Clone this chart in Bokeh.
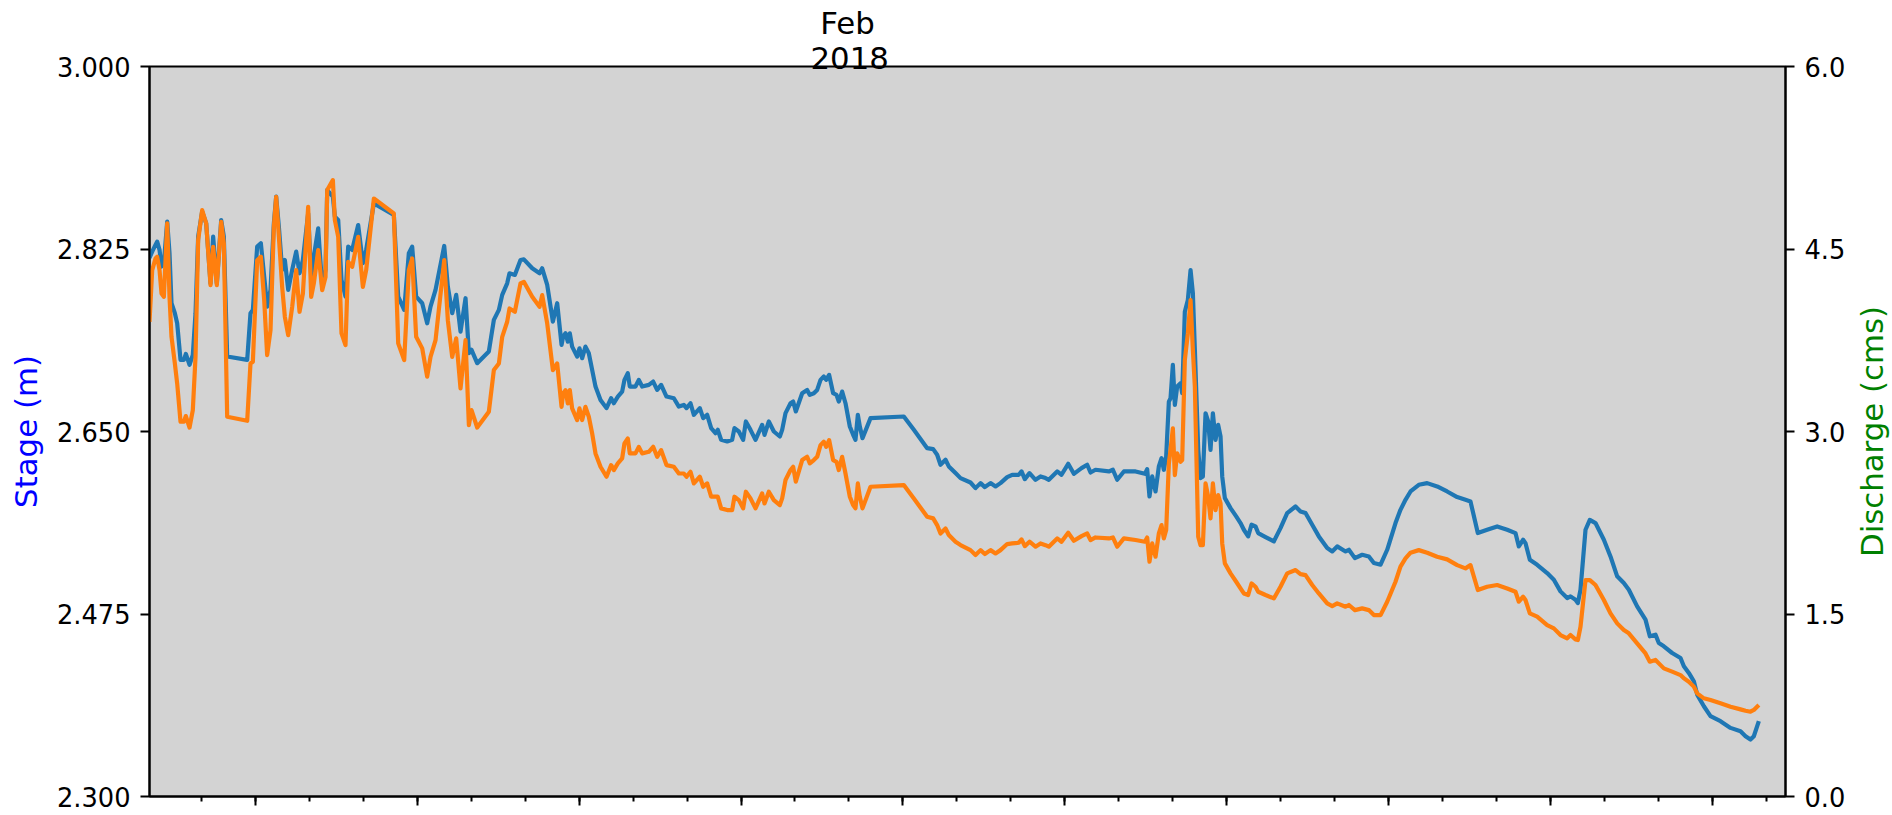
import math
from bokeh.plotting import figure
from bokeh.layouts import row
from bokeh.models import Range1d, LinearAxis, FixedTicker, Title
from bokeh.core.properties import value
from bokeh.embed import file_html
from bokeh.resources import INLINE

# time in days since 2018-02-01 00:00
days = [
    -1.965, -1.915, -1.854, -1.823, -1.779, -1.742, -1.699, -1.637, -1.594, -1.557,
    -1.495, -1.452, -1.390, -1.328, -1.291, -1.223, -1.162, -1.112, -1.063, -0.989,
    -0.914, -0.834, -0.785, -0.717, -0.636, -0.587, -0.525, -0.154, -0.093, -0.049,
    0.031, 0.099, 0.161, 0.216, 0.278, 0.340, 0.383, 0.433, 0.494, 0.544,
    0.606, 0.680, 0.754, 0.816, 0.878, 0.976, 1.032, 1.081, 1.162, 1.236,
    1.298, 1.329, 1.434, 1.471, 1.533, 1.594, 1.668, 1.718, 1.792, 1.903,
    1.990, 2.051, 2.194, 2.564, 2.645, 2.756, 2.842, 2.904, 2.978, 3.090,
    3.182, 3.244, 3.337, 3.498, 3.565, 3.646, 3.720, 3.800, 3.893, 3.955,
    4.004, 4.109, 4.233, 4.325, 4.418, 4.511, 4.573, 4.665, 4.708, 4.807,
    4.912, 4.974, 5.129, 5.265, 5.314, 5.407, 5.512, 5.592, 5.673,
    5.702, 5.746, 5.789, 5.826, 5.869, 5.962, 6.005, 6.055, 6.116, 6.178,
    6.240, 6.302, 6.395, 6.506, 6.592, 6.642, 6.716, 6.796, 6.839, 6.901,
    6.938, 7.043, 7.105, 7.167, 7.290, 7.371, 7.445, 7.519, 7.618, 7.754,
    7.847, 7.939, 7.989, 8.063, 8.125, 8.236, 8.298, 8.372, 8.446, 8.526,
    8.569, 8.631, 8.743, 8.835, 8.878, 8.959, 9.039, 9.089, 9.175, 9.268,
    9.391, 9.435, 9.515, 9.608, 9.719, 9.762, 9.824, 9.917, 9.966, 10.015,
    10.133, 10.225, 10.275, 10.349, 10.411, 10.473, 10.534, 10.578, 10.633, 10.707,
    10.769, 10.812, 10.874, 10.936, 11.016, 11.078, 11.121, 11.165, 11.202, 11.251,
    11.400, 12.017, 12.203, 12.450, 12.561, 12.635, 12.697, 12.790, 12.851, 12.975,
    13.068, 13.253, 13.346,
    13.439, 13.519, 13.624, 13.717, 13.809, 13.933, 14.026, 14.149, 14.199, 14.260,
    14.347, 14.458, 14.551, 14.644, 14.705, 14.860, 14.940, 15.064, 15.169, 15.311,
    15.416, 15.478, 15.570, 15.818, 15.892, 15.972, 16.096, 16.312, 16.485, 16.528,
    16.571, 16.621, 16.683, 16.744, 16.794, 16.837, 16.880, 16.930, 16.961, 17.004,
    17.041, 17.084, 17.146, 17.177, 17.226, 17.282, 17.332, 17.375, 17.412, 17.474,
    17.517, 17.560, 17.610, 17.659, 17.702, 17.746, 17.795, 17.844, 17.888, 17.919,
    17.968, 18.073, 18.178, 18.258, 18.320, 18.400, 18.462, 18.536, 18.586, 18.722,
    18.876, 18.999, 19.123, 19.278, 19.370, 19.463, 19.587, 19.710, 19.865, 19.958,
    20.050, 20.205, 20.267, 20.378, 20.514, 20.637, 20.730, 20.854, 20.977, 21.131,
    21.223, 21.316, 21.409, 21.563, 21.718, 21.903, 22.088, 22.274, 22.428, 22.521,
    22.657, 22.830, 23.015, 23.201, 23.355, 23.417, 23.497, 23.540, 23.621, 23.757,
    23.942, 24.066, 24.189, 24.313, 24.375, 24.467, 24.511, 24.560, 24.653, 24.733,
    24.838, 24.993, 25.116, 25.240, 25.363, 25.456, 25.610, 25.765, 25.845, 25.950,
    26.012, 26.105, 26.259, 26.414, 26.476, 26.568, 26.661, 26.723, 26.847, 26.970,
    27.155, 27.341, 27.526, 27.619, 27.711, 27.773, 27.866,
]

stage_m = [
    2.8165, 2.8225, 2.8289, 2.8321, 2.8241, 2.8081, 2.8113, 2.8512, 2.8209, 2.7730,
    2.7634, 2.7538, 2.7187, 2.7187, 2.7244, 2.7139, 2.7235, 2.7634, 2.8368, 2.8608,
    2.8496, 2.7921, 2.8368, 2.7921, 2.8528, 2.8368, 2.7219, 2.7187, 2.7634, 2.7666,
    2.8273, 2.8305, 2.7985, 2.7698, 2.7858, 2.8496, 2.8752, 2.8464, 2.8049, 2.8145,
    2.7858, 2.8049, 2.8225, 2.8017, 2.8145, 2.8592, 2.7985, 2.8177, 2.8448, 2.7889,
    2.8049, 2.8815, 2.8752, 2.8560, 2.8528, 2.7953, 2.7794, 2.8273, 2.8241, 2.8480,
    2.8113, 2.8241, 2.8688, 2.8576, 2.7794, 2.7666, 2.8209, 2.8273, 2.7794, 2.7730,
    2.7538, 2.7698, 2.7858, 2.8279, 2.7889, 2.7634, 2.7810, 2.7458, 2.7778, 2.7251,
    2.7283, 2.7155, 2.7219, 2.7267, 2.7570, 2.7666, 2.7810, 2.7921, 2.8017, 2.8001,
    2.8145, 2.8151, 2.8065, 2.8017, 2.8065, 2.7905, 2.7554, 2.7730, 2.7331,
    2.7410, 2.7442, 2.7362, 2.7442, 2.7314, 2.7218, 2.7298, 2.7203, 2.7314, 2.7250,
    2.7091, 2.6931, 2.6803, 2.6724, 2.6819, 2.6771, 2.6835, 2.6883, 2.6995, 2.7059,
    2.6931, 2.6931, 2.6995, 2.6931, 2.6947, 2.6979, 2.6899, 2.6947, 2.6835, 2.6819,
    2.6739, 2.6755, 2.6724, 2.6771, 2.6660, 2.6724, 2.6628, 2.6660, 2.6532, 2.6484,
    2.6516, 2.6420, 2.6404, 2.6420, 2.6532, 2.6500, 2.6420, 2.6596, 2.6516, 2.6420,
    2.6564, 2.6468, 2.6596, 2.6500, 2.6452, 2.6516, 2.6676, 2.6771, 2.6787, 2.6692,
    2.6867, 2.6899, 2.6851, 2.6867, 2.6899, 2.6995, 2.7027, 2.6995, 2.7043, 2.6867,
    2.6851, 2.6787, 2.6883, 2.6771, 2.6548, 2.6468, 2.6420, 2.6660, 2.6548, 2.6436,
    2.6628, 2.6644, 2.6516, 2.6340, 2.6331, 2.6277, 2.6181, 2.6229, 2.6165, 2.6101,
    2.6053, 2.6011, 2.5957,
    2.6005, 2.5967, 2.6005, 2.5973, 2.6005, 2.6062, 2.6085, 2.6085, 2.6117, 2.6043,
    2.6101, 2.6037, 2.6069, 2.6053, 2.6037, 2.6117, 2.6085, 2.6190, 2.6094, 2.6149,
    2.6181, 2.6107, 2.6133, 2.6117, 2.6133, 2.6037, 2.6117, 2.6117, 2.6094, 2.6139,
    2.5877, 2.6069, 2.5925, 2.6165, 2.6244, 2.6133, 2.6260, 2.6787, 2.6819, 2.7138,
    2.6755, 2.6931, 2.6963, 2.6867, 2.7649, 2.7761, 2.8048, 2.7825, 2.7282, 2.6324,
    2.6053, 2.6069, 2.6675, 2.6596, 2.6324, 2.6675, 2.6420, 2.6564, 2.6452, 2.6069,
    2.5861, 2.5765, 2.5686, 2.5622, 2.5558, 2.5494, 2.5606, 2.5590, 2.5526, 2.5488,
    2.5446, 2.5574, 2.5718, 2.5781, 2.5734, 2.5718, 2.5606, 2.5494, 2.5382, 2.5350,
    2.5398, 2.5350, 2.5366, 2.5286, 2.5318, 2.5302, 2.5239, 2.5223, 2.5366, 2.5622,
    2.5749, 2.5845, 2.5925, 2.5989, 2.6005, 2.5973, 2.5925, 2.5871, 2.5845, 2.5829,
    2.5526, 2.5558, 2.5590, 2.5558, 2.5526, 2.5398, 2.5462, 2.5430, 2.5270, 2.5222,
    2.5143, 2.5079, 2.4967, 2.4903, 2.4919, 2.4887, 2.4855, 2.4983, 2.5558, 2.5653,
    2.5622, 2.5462, 2.5302, 2.5111, 2.5047, 2.4983, 2.4823, 2.4696, 2.4536, 2.4552,
    2.4472, 2.4440, 2.4376, 2.4328, 2.4249, 2.4185, 2.4105, 2.3977, 2.3865, 2.3770,
    2.3722, 2.3658, 2.3626, 2.3578, 2.3546, 2.3578, 2.3722,
]

discharge_cms = [
    3.900, 4.326, 4.422, 4.436, 4.326, 4.134, 4.107, 4.710, 4.107, 3.778,
    3.559, 3.395, 3.080, 3.080, 3.127, 3.033, 3.176, 3.614, 4.573, 4.819,
    4.710, 4.203, 4.518, 4.203, 4.723, 4.545, 3.121, 3.088, 3.559, 3.573,
    4.408, 4.436, 4.080, 3.628, 3.833, 4.682, 4.929, 4.600, 4.189, 3.943,
    3.792, 4.025, 4.326, 3.984, 4.134, 4.847, 4.107, 4.217, 4.491, 4.162,
    4.271, 4.984, 5.066, 4.737, 4.600, 3.806, 3.710, 4.395, 4.354, 4.600,
    4.189, 4.326, 4.915, 4.792, 3.724, 3.587, 4.326, 4.422, 3.778, 3.683,
    3.450, 3.614, 3.751, 4.408, 3.915, 3.614, 3.765, 3.354, 3.751, 3.053,
    3.176, 3.033, 3.107, 3.162, 3.505, 3.559, 3.778, 3.902, 4.011, 3.984,
    4.217, 4.230, 4.107, 4.025, 4.121, 3.888, 3.505, 3.559, 3.203,
    3.313, 3.340, 3.231, 3.340, 3.190, 3.094, 3.190, 3.094, 3.203, 3.121,
    2.984, 2.820, 2.710, 2.628, 2.724, 2.683, 2.738, 2.779, 2.902, 2.943,
    2.820, 2.820, 2.874, 2.820, 2.833, 2.874, 2.792, 2.847, 2.724, 2.710,
    2.655, 2.655, 2.628, 2.669, 2.573, 2.628, 2.546, 2.573, 2.464, 2.464,
    2.464, 2.368, 2.354, 2.354, 2.464, 2.436, 2.368, 2.505, 2.450, 2.368,
    2.491, 2.409, 2.505, 2.436, 2.395, 2.450, 2.601, 2.683, 2.710, 2.587,
    2.765, 2.792, 2.738, 2.765, 2.792, 2.888, 2.916, 2.874, 2.929, 2.765,
    2.751, 2.683, 2.792, 2.655, 2.464, 2.395, 2.368, 2.573, 2.464, 2.368,
    2.546, 2.560, 2.450, 2.299, 2.286, 2.231, 2.162, 2.203, 2.149, 2.094,
    2.067, 2.025, 1.984,
    2.025, 1.993, 2.025, 1.998, 2.025, 2.075, 2.080, 2.086, 2.113, 2.058,
    2.094, 2.053, 2.080, 2.066, 2.053, 2.121, 2.094, 2.168, 2.102, 2.140,
    2.162, 2.108, 2.129, 2.121, 2.129, 2.053, 2.121, 2.108, 2.094, 2.129,
    1.930, 2.080, 1.971, 2.162, 2.231, 2.121, 2.190, 2.738, 2.847, 3.025,
    2.642, 2.820, 2.751, 2.765, 3.587, 3.806, 4.080, 3.669, 3.367, 2.135,
    2.066, 2.066, 2.573, 2.464, 2.286, 2.573, 2.354, 2.477, 2.409, 2.080,
    1.916, 1.834, 1.765, 1.710, 1.669, 1.656, 1.751, 1.724, 1.683, 1.656,
    1.628, 1.724, 1.834, 1.861, 1.828, 1.820, 1.738, 1.669, 1.587, 1.565,
    1.587, 1.560, 1.574, 1.532, 1.546, 1.532, 1.491, 1.491, 1.601, 1.765,
    1.889, 1.957, 2.004, 2.025, 2.004, 1.971, 1.949, 1.902, 1.875, 1.902,
    1.697, 1.724, 1.738, 1.710, 1.683, 1.601, 1.642, 1.615, 1.505, 1.478,
    1.409, 1.382, 1.327, 1.300, 1.327, 1.291, 1.286, 1.395, 1.779, 1.779,
    1.738, 1.615, 1.505, 1.423, 1.368, 1.341, 1.259, 1.176, 1.108, 1.122,
    1.094, 1.053, 1.026, 0.998, 0.971, 0.944, 0.903, 0.848, 0.807, 0.793,
    0.766, 0.738, 0.716, 0.705, 0.697, 0.711, 0.752,
]

stage_ticks = [2.300, 2.475, 2.650, 2.825, 3.000]
stage_tick_labels = ["2.300", "2.475", "2.650", "2.825", "3.000"]
q_ticks = [0.0, 1.5, 3.0, 4.5, 6.0]
q_tick_labels = ["0.0", "1.5", "3.0", "4.5", "6.0"]
day_major = [0, 3, 6, 9, 12, 15, 18, 21, 24, 27]
day_minor = list(range(-1, 29))
period_label = "\u00a0Feb\n2018"
stage_title = "Stage (m)"
discharge_title = "Discharge (cms)"

FONT = "DejaVu Sans"
TICK_FS = "25.7px"
LABEL_FS = "30.8px"

p = figure(width=1850, height=815, output_backend="svg", toolbar_location=None,
           x_range=Range1d(-1.965, 28.36), y_range=Range1d(2.3, 3.0),
           min_border_left=149, min_border_right=65, min_border_top=66,
           min_border_bottom=19)
p.background_fill_color = "#d3d3d3"
p.border_fill_color = "white"
p.outline_line_color = "black"
p.outline_line_width = 2
p.grid.visible = False
p.extra_y_ranges = {"q": Range1d(0, 6)}

# x axis (ticks only, no labels)
xa = p.xaxis[0]
xa.ticker = FixedTicker(ticks=day_major, minor_ticks=day_minor)
xa.major_label_overrides = {t: "" for t in day_major}
xa.major_label_text_font_size = "1px"
xa.major_label_standoff = 0
xa.major_tick_out = 9
xa.major_tick_in = 0
xa.minor_tick_out = 5
xa.minor_tick_in = 0
xa.axis_line_width = 2
xa.major_tick_line_width = 2
xa.minor_tick_line_width = 2

# left axis (stage)
ya = p.yaxis[0]
ya.ticker = FixedTicker(ticks=stage_ticks, minor_ticks=[])
ya.major_label_overrides = dict(zip(stage_ticks, stage_tick_labels))
ya.axis_label = stage_title
ya.axis_label_text_color = "#0000ff"
ya.axis_label_text_font = FONT
ya.axis_label_text_font_size = LABEL_FS
ya.axis_label_text_font_style = "normal"
ya.axis_label_standoff = 10
ya.major_label_text_font = FONT
ya.major_label_text_font_size = TICK_FS
ya.major_label_text_color = "black"
ya.major_label_standoff = 10
ya.major_tick_out = 9
ya.major_tick_in = 0
ya.axis_line_width = 2
ya.major_tick_line_width = 2

# right axis (discharge ticks)
ra = LinearAxis(y_range_name="q")
ra.ticker = FixedTicker(ticks=q_ticks, minor_ticks=[])
ra.major_label_overrides = dict(zip(q_ticks, q_tick_labels))
ra.major_label_text_font = FONT
ra.major_label_text_font_size = TICK_FS
ra.major_label_text_color = "black"
ra.major_label_standoff = 10
ra.major_tick_out = 9
ra.major_tick_in = 0
ra.axis_line_width = 2
ra.major_tick_line_width = 2
p.add_layout(ra, "right")

p.line(days, stage_m, line_color="#1f77b4", line_width=4.2, line_join="round")
p.line(days, discharge_cms, line_color="#ff7f0e", line_width=4.2, line_join="round",
       y_range_name="q")

period_title = Title(text=period_label, align="left", offset=661, standoff=-19,
                     vertical_align="bottom", text_font=FONT, text_font_size=LABEL_FS,
                     text_font_style="normal", text_color="black",
                     text_line_height=0.975)
p.add_layout(period_title, "above")

# narrow strip on the right carrying the discharge axis title (bottom-to-top)
p2 = figure(width=42, height=815, output_backend="svg", toolbar_location=None,
            x_range=Range1d(0, 1), y_range=p.y_range,
            x_axis_location=None, y_axis_location=None,
            min_border_left=0, min_border_right=0, min_border_top=66,
            min_border_bottom=19)
p2.outline_line_color = None
p2.background_fill_color = "white"
p2.border_fill_color = "white"
p2.grid.visible = False
mid_stage = (stage_ticks[0] + stage_ticks[-1]) / 2
p2.text(x=[0.5], y=[mid_stage], text=[discharge_title], angle=math.pi / 2,
        text_align="center", text_baseline="middle", text_font=value(FONT),
        text_font_size=LABEL_FS, text_color="#008000")

layout = row(p, p2, spacing=0)
open("out.html", "w").write(file_html(layout, INLINE))
